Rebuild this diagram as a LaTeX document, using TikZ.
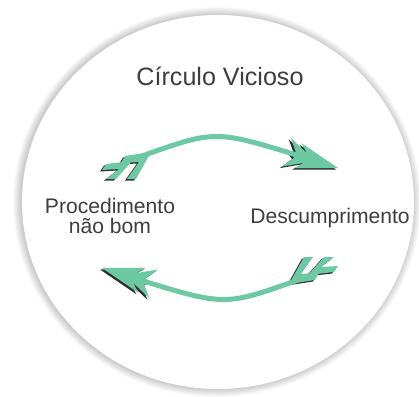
\documentclass[tikz,border=0pt]{standalone}
\usepackage{fontspec}
\setmainfont{Liberation Sans}
\definecolor{mint}{RGB}{108,201,163}
\definecolor{ink}{RGB}{62,62,62}
\definecolor{edge}{RGB}{48,48,48}
% head with two barbs, tip at the origin, pointing along +x
\newcommand{\arrowhead}[1]{\fill[#1] (0,0) -- (-42,-13) -- (-34,-5) -- (-54,-15) -- (-45,-3) -- (-49,0) -- (-45,3) -- (-54,15) -- (-34,5) -- (-42,13) -- cycle;}
% the two feathers at the tail
\newcommand{\fletch}[1]{\fill[#1] (106,164) -- (132,161) -- (116,179) -- (106,179) -- (119,169) -- (102,170) -- cycle;
  \fill[#1] (125,156) -- (151,152) -- (136,179) -- (127,179) -- (139,162) -- (121,163) -- cycle;}
\newcommand{\vicarrow}[1]{
  \begin{scope}[shift={(#1)}]
    \fletch{edge}
    \begin{scope}[shift={(338,168)}, rotate=-17] \arrowhead{edge} \end{scope}
  \end{scope}
  \draw[mint, line width=0.1cm] (142,156) .. controls (215,130) .. (300,156);
  \fletch{mint}
  \begin{scope}[shift={(338,168)}, rotate=-17] \arrowhead{mint} \end{scope}
}
\tikzset{tag/.style={text=ink, inner sep=0pt, font=\fontsize{12}{11}\selectfont}}

\begin{document}
\begin{tikzpicture}[x=0.02cm, y=-0.02cm]
    \useasboundingbox (0,0) rectangle (419,396);
    \fill[white] (0,0) rectangle (419,396);
    % disc with soft rim
    \foreach \g in {10,...,1}
        \fill[black, opacity=0.018] (217,202) ellipse ({196+0.8*\g} and {187+0.8*\g});
    \fill[white] (218,202) ellipse (196 and 187);
    % arrows
    \vicarrow{-2,1.5}
    \begin{scope}[rotate around={180:(220,218)}]
        \vicarrow{2,-1.5}
    \end{scope}
    % texts
    \node[tag, anchor=base, font=\fontsize{14.3}{16}\selectfont] (title) at (220,85) {Círculo Vicioso};
    \node[tag, align=center] (proc) at (110,216) {Procedimento\\não bom};
    \node[tag, anchor=base] (desc) at (330,223) {Descumprimento};
\end{tikzpicture}
\end{document}
